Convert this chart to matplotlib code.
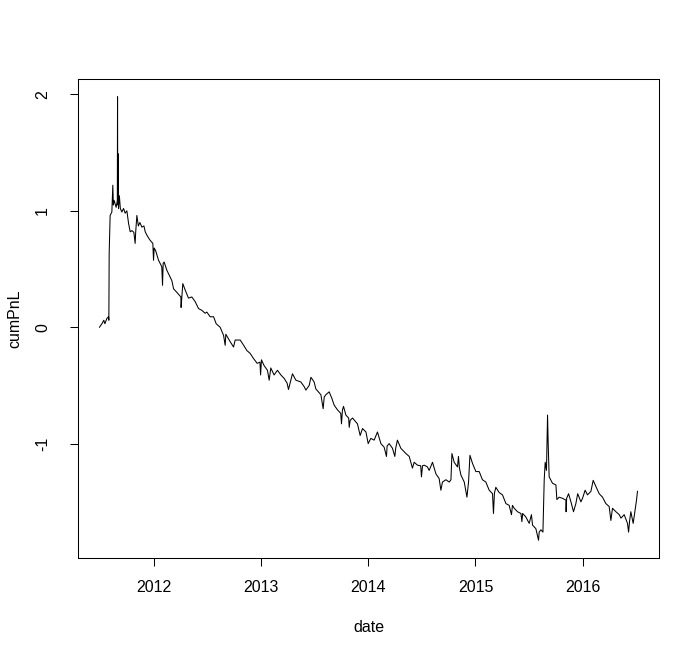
# cumulative PnL line, R base-graphics look
import numpy as np
import pandas as pd
import matplotlib
matplotlib.use('Agg')
import matplotlib.pyplot as plt
import matplotlib.dates as mdates

plt.rcParams['font.family'] = ['Liberation Sans', 'DejaVu Sans']
plt.rcParams['axes.unicode_minus'] = False

# dates, as decimal years
year_pos = [
    2011.496, 2011.518, 2011.536, 2011.546, 2011.564, 2011.580, 2011.583, 2011.586,
    2011.595, 2011.611, 2011.620, 2011.625, 2011.632, 2011.651, 2011.662, 2011.664,
    2011.666, 2011.670, 2011.673, 2011.681, 2011.690, 2011.704, 2011.720, 2011.735,
    2011.751, 2011.767, 2011.782, 2011.798, 2011.816, 2011.828, 2011.833, 2011.844,
    2011.858, 2011.872, 2011.891, 2011.910, 2011.922, 2011.938, 2011.965, 2011.993,
    2012.000, 2012.006, 2012.019, 2012.047, 2012.077, 2012.084, 2012.090, 2012.099,
    2012.124, 2012.155, 2012.171, 2012.187, 2012.217, 2012.255, 2012.257, 2012.264,
    2012.273, 2012.295, 2012.326, 2012.357, 2012.388, 2012.420, 2012.451, 2012.481,
    2012.497, 2012.528, 2012.560, 2012.584, 2012.621, 2012.653, 2012.668, 2012.674,
    2012.715, 2012.746, 2012.761, 2012.808, 2012.840, 2012.870, 2012.901, 2012.933,
    2012.966, 2012.992, 2012.998, 2013.004, 2013.029, 2013.060, 2013.076, 2013.091,
    2013.122, 2013.153, 2013.185, 2013.216, 2013.243, 2013.256, 2013.278, 2013.293,
    2013.325, 2013.371, 2013.402, 2013.418, 2013.449, 2013.465, 2013.495, 2013.511,
    2013.558, 2013.579, 2013.589, 2013.604, 2013.635, 2013.660, 2013.682, 2013.713,
    2013.743, 2013.750, 2013.759, 2013.769, 2013.791, 2013.817, 2013.822, 2013.831,
    2013.853, 2013.899, 2013.924, 2013.946, 2013.978, 2013.999, 2014.024, 2014.055,
    2014.086, 2014.118, 2014.148, 2014.170, 2014.176, 2014.195, 2014.226, 2014.248,
    2014.256, 2014.272, 2014.304, 2014.351, 2014.382, 2014.412, 2014.428, 2014.459,
    2014.489, 2014.496, 2014.506, 2014.522, 2014.552, 2014.568, 2014.599, 2014.631,
    2014.661, 2014.677, 2014.692, 2014.724, 2014.755, 2014.771, 2014.780, 2014.801,
    2014.832, 2014.841, 2014.850, 2014.864, 2014.895, 2014.920, 2014.935, 2014.948,
    2014.972, 2015.004, 2015.035, 2015.065, 2015.097, 2015.128, 2015.159, 2015.168,
    2015.177, 2015.190, 2015.221, 2015.252, 2015.284, 2015.314, 2015.336, 2015.345,
    2015.361, 2015.392, 2015.424, 2015.433, 2015.440, 2015.470, 2015.501, 2015.522,
    2015.532, 2015.563, 2015.588, 2015.594, 2015.610, 2015.629, 2015.641, 2015.650,
    2015.662, 2015.672, 2015.678, 2015.687, 2015.718, 2015.750, 2015.759, 2015.781,
    2015.812, 2015.843, 2015.845, 2015.850, 2015.868, 2015.890, 2015.914, 2015.936,
    2015.953, 2015.983, 2015.998, 2016.023, 2016.045, 2016.077, 2016.098, 2016.117,
    2016.154, 2016.185, 2016.216, 2016.247, 2016.263, 2016.278, 2016.310, 2016.341,
    2016.357, 2016.387, 2016.418, 2016.428, 2016.438, 2016.449, 2016.471, 2016.490,
    2016.502, 2016.511,
]

cum_pnl = [
    0.00, 0.03, 0.06, 0.03, 0.075, 0.09, 0.06, 0.635,
    0.96, 0.99, 1.22, 1.05, 1.09, 1.03, 1.09, 1.98,
    1.05, 1.49, 1.02, 1.13, 1.02, 0.99, 1.02, 0.98,
    1.00, 0.89, 0.82, 0.83, 0.815, 0.72, 0.815, 0.96,
    0.87, 0.90, 0.86, 0.87, 0.82, 0.79, 0.75, 0.72,
    0.575, 0.68, 0.66, 0.575, 0.52, 0.36, 0.55, 0.56,
    0.49, 0.43, 0.40, 0.33, 0.30, 0.26, 0.17, 0.26,
    0.375, 0.32, 0.25, 0.26, 0.22, 0.16, 0.145, 0.12,
    0.13, 0.09, 0.09, 0.03, 0.00, -0.07, -0.155, -0.06,
    -0.125, -0.17, -0.11, -0.11, -0.155, -0.20, -0.225, -0.27,
    -0.31, -0.30, -0.41, -0.28, -0.33, -0.37, -0.455, -0.35,
    -0.41, -0.37, -0.41, -0.44, -0.48, -0.535, -0.455, -0.40,
    -0.455, -0.47, -0.51, -0.54, -0.50, -0.43, -0.47, -0.53,
    -0.58, -0.70, -0.60, -0.58, -0.555, -0.61, -0.67, -0.71,
    -0.74, -0.83, -0.71, -0.68, -0.755, -0.78, -0.86, -0.80,
    -0.78, -0.83, -0.93, -0.87, -0.90, -1.00, -0.955, -0.97,
    -0.90, -1.00, -1.03, -1.11, -1.02, -1.00, -1.04, -1.11,
    -1.04, -0.97, -1.04, -1.085, -1.11, -1.21, -1.16, -1.185,
    -1.19, -1.285, -1.19, -1.185, -1.20, -1.23, -1.16, -1.26,
    -1.30, -1.40, -1.33, -1.31, -1.33, -1.31, -1.085, -1.16,
    -1.20, -1.11, -1.21, -1.27, -1.33, -1.46, -1.33, -1.10,
    -1.17, -1.24, -1.24, -1.31, -1.33, -1.40, -1.43, -1.60,
    -1.425, -1.375, -1.42, -1.44, -1.515, -1.53, -1.61, -1.53,
    -1.555, -1.585, -1.60, -1.67, -1.60, -1.63, -1.685, -1.61,
    -1.70, -1.73, -1.83, -1.76, -1.74, -1.76, -1.31, -1.16,
    -1.23, -0.755, -1.00, -1.285, -1.34, -1.355, -1.48, -1.46,
    -1.47, -1.485, -1.585, -1.47, -1.43, -1.50, -1.585, -1.515,
    -1.43, -1.50, -1.47, -1.40, -1.44, -1.41, -1.315, -1.355,
    -1.43, -1.46, -1.515, -1.54, -1.66, -1.555, -1.585, -1.61,
    -1.64, -1.61, -1.685, -1.76, -1.66, -1.585, -1.685, -1.56,
    -1.485, -1.41,
]

y_ticks = [-1, 0, 1, 2]

dates = [pd.Timestamp(int(y), 1, 1) + pd.Timedelta(days=(y - int(y)) * 365.25)
         for y in year_pos]

fig = plt.figure(figsize=(7.0, 6.56), dpi=100)
ax = fig.add_axes([78 / 700, 98 / 656, 581 / 700, 479 / 656])
ax.plot(dates, cum_pnl, color='black', linewidth=0.75)

ax.margins(x=0.04, y=0.04)

# axis formatting
ax.xaxis.set_major_locator(mdates.YearLocator())
ax.xaxis.set_major_formatter(mdates.DateFormatter('%Y'))
ax.set_yticks(y_ticks)
ax.set_yticklabels([str(t) for t in y_ticks], rotation=90, va='center')
ax.tick_params(axis='both', direction='out', length=6, width=0.75,
               labelsize=11.5, color='black')
ax.tick_params(axis='x', pad=10)
ax.tick_params(axis='y', pad=14)
for s in ax.spines.values():
    s.set_linewidth(0.75)

ax.set_xlabel('date', fontsize=11.5, labelpad=18)
ax.set_ylabel('cumPnL', fontsize=11.5, labelpad=9)

fig.savefig('out.png', dpi=100)
